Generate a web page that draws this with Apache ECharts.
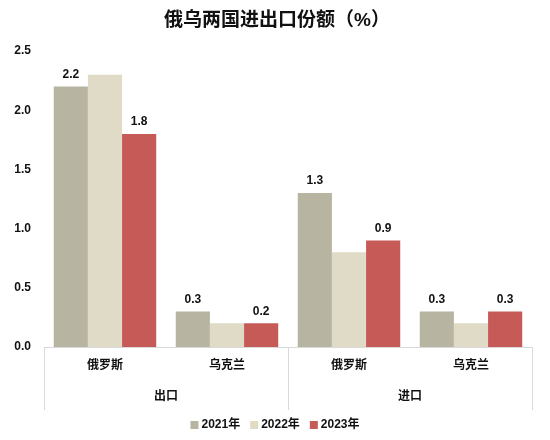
<!DOCTYPE html>
<html>
<head>
<meta charset="utf-8">
<script src="https://cdn.jsdelivr.net/npm/echarts@6/dist/echarts.min.js"></script>
<style>
html,body{margin:0;padding:0;background:#fff;}
#main{width:550px;height:440px;}
</style>
</head>
<body>
<div id="main"></div>
<script>
var countries = ['俄罗斯', '乌克兰', '俄罗斯', '乌克兰'];
var groups = ['出口', '进口'];
var years = ['2021年', '2022年', '2023年'];
var data2021 = [2.2, 0.3, 1.3, 0.3];
var data2022 = [2.3, 0.2, 0.8, 0.2];
var data2023 = [1.8, 0.2, 0.9, 0.3];
var yTicks = [0, 0.5, 1.0, 1.5, 2.0, 2.5];

var font = '"Liberation Sans", "Noto Sans CJK SC", sans-serif';
var lineColor = '#d9d9d9';

function barSeries(name, data, color, showLabel) {
	return {
		name: name,
		type: 'bar',
		xAxisIndex: 0,
		data: data,
		barGap: 0,
		barCategoryGap: '16%',
		itemStyle: {color: color},
		label: {
			show: showLabel,
			position: 'top',
			distance: 6,
			color: '#111',
			fontWeight: 'bold',
			fontSize: 12,
			fontFamily: font,
			formatter: function (p) { return p.value.toFixed(1); }
		}
	};
}

var chart = echarts.init(document.getElementById('main'));
var option = {
	animation: false,
	textStyle: {fontFamily: font},
	title: {
		text: '俄乌两国进出口份额（%）',
		left: 272,
		textAlign: 'center',
		top: 6,
		textStyle: {fontSize: 19, fontWeight: 'bold', color: '#111', fontFamily: font}
	},
	legend: {
		bottom: 4,
		left: 'center',
		itemWidth: 8,
		itemHeight: 8,
		itemGap: 10,
		icon: 'rect',
		data: years,
		textStyle: {fontSize: 12, fontWeight: 'bold', color: '#111', fontFamily: font, padding: [0, 0, 0, -2]}
	},
	grid: {left: 44, right: 18, top: 51, bottom: 93},
	xAxis: [{
		type: 'category',
		data: countries,
		axisLine: {show: true, lineStyle: {color: lineColor, width: 1}},
		axisTick: {show: false},
		axisLabel: {margin: 13, fontSize: 12, fontWeight: 'bold', color: '#111', fontFamily: font}
	}, {
		type: 'category',
		data: groups,
		position: 'bottom',
		axisLine: {show: false},
		axisTick: {show: true, length: 63, lineStyle: {color: lineColor, width: 1}},
		axisLabel: {margin: 44, fontSize: 12, fontWeight: 'bold', color: '#111', fontFamily: font}
	}],
	yAxis: {
		type: 'value',
		min: yTicks[0],
		max: yTicks[yTicks.length - 1],
		interval: 0.5,
		splitLine: {show: false},
		axisLine: {show: false},
		axisTick: {show: false},
		axisLabel: {
			margin: 13,
			fontSize: 12,
			fontWeight: 'bold',
			color: '#111',
			fontFamily: font,
			formatter: function (v) { return v.toFixed(1); }
		}
	},
	series: [
		barSeries(years[0], data2021, '#b7b5a1', true),
		barSeries(years[1], data2022, '#dfdbc7', false),
		barSeries(years[2], data2023, '#c55a57', true)
	]
};
chart.setOption(option);
</script>
</body>
</html>
